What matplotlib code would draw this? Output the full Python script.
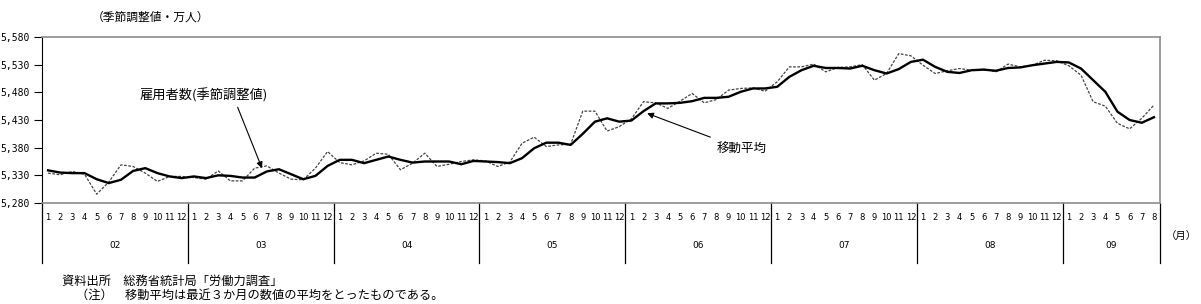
import numpy as np
import matplotlib
matplotlib.use('Agg')
import matplotlib.pyplot as plt
import matplotlib.transforms as mtransforms

plt.rcParams['font.family'] = ['Noto Sans CJK JP', 'DejaVu Sans']

# data (monthly, 2002/01 - 2009/08)
years = ['02', '03', '04', '05', '06', '07', '08', '09']
months_per_year = [12, 12, 12, 12, 12, 12, 12, 8]

employees = [5334, 5331, 5337, 5332, 5296, 5318, 5349, 5346, 5334, 5319, 5328, 5328,
             5326, 5323, 5338, 5320, 5320, 5343, 5347, 5334, 5323, 5322, 5343, 5373,
             5353, 5349, 5356, 5370, 5368, 5340, 5352, 5370, 5346, 5350, 5355, 5358,
             5356, 5346, 5354, 5388, 5399, 5382, 5385, 5386, 5446, 5446, 5410, 5418,
             5432, 5463, 5461, 5451, 5464, 5478, 5461, 5467, 5484, 5487, 5488, 5482,
             5499, 5526, 5526, 5531, 5517, 5525, 5526, 5530, 5502, 5514, 5550, 5546,
             5529, 5514, 5519, 5523, 5520, 5522, 5517, 5531, 5526, 5529, 5538, 5537,
             5528, 5511, 5463, 5455, 5424, 5414, 5433, 5457]

moving_avg = [5339, 5335, 5334, 5334, 5323, 5316, 5322, 5338, 5343, 5334, 5328, 5325,
              5328, 5325, 5330, 5329, 5326, 5326, 5337, 5341, 5332, 5323, 5329, 5347,
              5358, 5358, 5352, 5358, 5364, 5358, 5353, 5355, 5355, 5355, 5350, 5356,
              5355, 5354, 5352, 5361, 5379, 5389, 5389, 5385, 5405, 5427, 5433, 5427,
              5429, 5446, 5460, 5460, 5461, 5464, 5470, 5470, 5472, 5481, 5487, 5487,
              5490, 5508, 5520, 5528, 5524, 5524, 5523, 5528, 5520, 5514, 5522, 5535,
              5539, 5526, 5517, 5515, 5520, 5521, 5519, 5524, 5525, 5529, 5532, 5535,
              5534, 5523, 5502, 5481, 5445, 5430, 5425, 5435]

month_labels = [str(m) for n in months_per_year for m in range(1, n + 1)]
x = np.arange(len(employees))

fig = plt.figure(figsize=(12.01, 3.04), dpi=100)
ax = fig.add_axes([42 / 1201, 1 - 203 / 304, 1118 / 1201, 166 / 304])

ax.plot(x, employees, color='#444444', lw=0.9, dashes=(2.2, 1.2))
ax.plot(x, moving_avg, color='black', lw=1.7)

ax.set_xlim(-0.5, len(x) - 0.5)
ax.set_ylim(5280, 5580)
yt = np.arange(5280, 5581, 50)
ax.set_yticks(yt)
ax.set_yticklabels(['{:,}'.format(v) for v in yt], family='DejaVu Sans Mono', fontsize=7)
ax.tick_params(axis='y', direction='out', length=6, width=0.8, pad=3)

ax.set_xticks(x)
ax.set_xticklabels(month_labels, fontsize=6, family='DejaVu Sans')
ax.tick_params(axis='x', length=0, pad=7)

for s in ['top', 'right', 'bottom']:
    ax.spines[s].set_color('#8c8c8c')
    ax.spines[s].set_linewidth(1.2)
ax.spines['left'].set_color('black')

# year separators and year labels below the axis
trans = mtransforms.blended_transform_factory(ax.transData, ax.transAxes)
edges = np.concatenate([[0], np.cumsum(months_per_year)]) - 0.5
for e in edges:
    ax.plot([e, e], [0, -0.36], color='black', lw=0.9, transform=trans, clip_on=False)
for i, y in enumerate(years):
    ax.text((edges[i] + edges[i + 1]) / 2, -0.255, y, transform=trans,
            ha='center', va='center', fontsize=6.5, family='DejaVu Sans')
fig.text(1166 / 1201, 1 - 236 / 304, '（月）', fontsize=7.5, va='center', ha='left')

fig.text(92 / 1201, 1 - 17 / 304, '（季節調整値・万人）', fontsize=8.5, va='center', ha='left')

# annotations
ax.text(7.5, 5475, '雇用者数(季節調整値)', fontsize=9.5, ha='left', va='center')
ax.annotate('', xy=(17.6, 5343), xytext=(15.6, 5453),
            arrowprops=dict(arrowstyle='-|>', color='black', lw=0.8,
                            shrinkA=0, shrinkB=0, mutation_scale=9))
ax.text(55.0, 5376, '移動平均', fontsize=9, ha='left', va='center')
ax.annotate('', xy=(49.3, 5442), xytext=(54.5, 5399),
            arrowprops=dict(arrowstyle='-|>', color='black', lw=0.8,
                            shrinkA=0, shrinkB=0, mutation_scale=9))

fig.text(62 / 1201, 1 - 281 / 304, '資料出所　総務省統計局「労働力調査」', fontsize=8.8, va='center')
fig.text(76 / 1201, 1 - 295 / 304, '（注）　移動平均は最近３か月の数値の平均をとったものである。',
         fontsize=8.8, va='center')

fig.savefig('out.png', dpi=100)
